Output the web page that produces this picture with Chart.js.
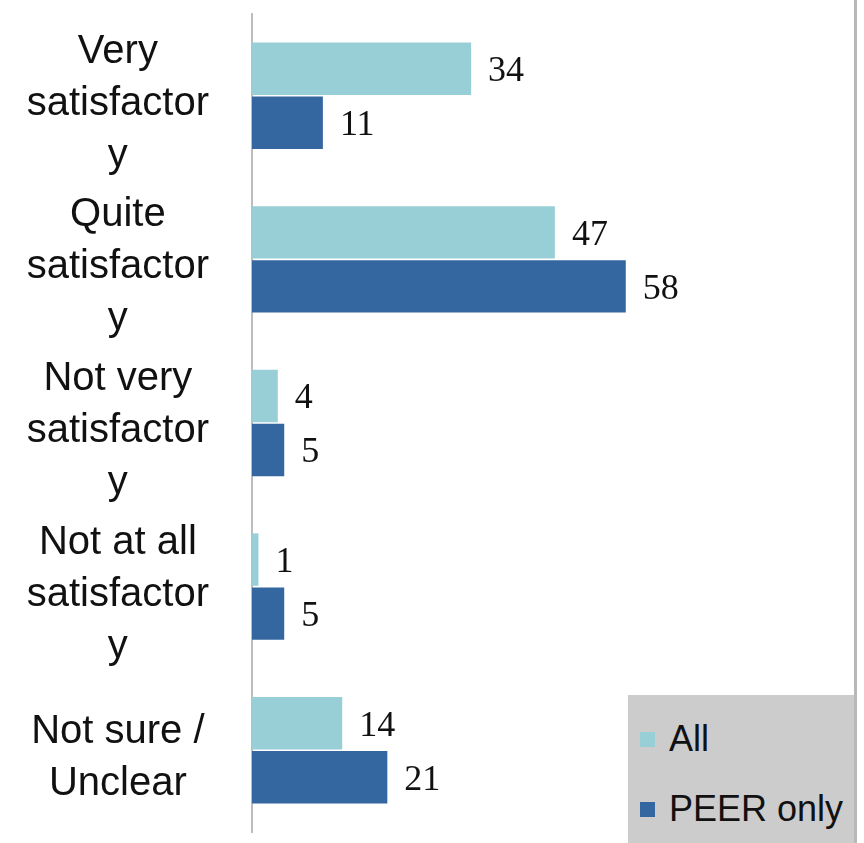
<!DOCTYPE html>
<html>
<head>
<meta charset="utf-8">
<script src="https://cdn.jsdelivr.net/npm/chart.js@4/dist/chart.umd.min.js"></script>
<style>
  html, body { margin: 0; padding: 0; background: #fff; }
  #wrap { position: relative; width: 864px; height: 843px; overflow: hidden; }
  #edge { position: absolute; left: 854px; top: 0; width: 3px; height: 843px; background: #b8b8b8; }
  #legend { position: absolute; left: 628px; top: 695px; width: 226px; height: 148px; background: #cccccc;
            font-family: "Liberation Sans", Arial, sans-serif; font-size: 36px; color: #111; }
  .item { position: absolute; left: 12px; height: 40px; line-height: 40px; white-space: nowrap; }
  .box { display: inline-block; width: 15px; height: 15px; margin-right: 14px; vertical-align: 4px; }
</style>
</head>
<body>
<div id="wrap">
  <canvas id="chart" width="864" height="843"></canvas>
  <div id="edge"></div>
  <div id="legend"></div>
</div>
<script>
// categorias y valores
const categorias = [
  ['Very', 'satisfactor', 'y'],
  ['Quite', 'satisfactor', 'y'],
  ['Not very', 'satisfactor', 'y'],
  ['Not at all', 'satisfactor', 'y'],
  ['Not sure /', 'Unclear']
];
const valoresAll = [34, 47, 4, 1, 14];
const valoresPeer = [11, 58, 5, 5, 21];
const series = ['All', 'PEER only'];
const colores = ['#98cfd7', '#3466a0'];

// etiquetas de valor al final de cada barra
const etiquetas = {
  id: 'etiquetas',
  afterDatasetsDraw(chart) {
    const ctx = chart.ctx;
    ctx.save();
    ctx.font = '36px "Liberation Serif", "Times New Roman", serif';
    ctx.fillStyle = '#111';
    ctx.textAlign = 'left';
    ctx.textBaseline = 'middle';
    chart.data.datasets.forEach((ds, i) => {
      chart.getDatasetMeta(i).data.forEach((bar, j) => {
        ctx.fillText(ds.data[j], bar.x + 17, bar.y + 3);
      });
    });
    ctx.restore();
  }
};

const chart = new Chart(document.getElementById('chart'), {
  type: 'bar',
  data: {
    labels: categorias,
    datasets: [
      { label: series[0], data: valoresAll, backgroundColor: colores[0] },
      { label: series[1], data: valoresPeer, backgroundColor: colores[1] }
    ]
  },
  options: {
    indexAxis: 'y',
    responsive: false,
    animation: false,
    layout: { padding: { left: 27, right: 32, top: 14, bottom: 11 } },
    datasets: { bar: { categoryPercentage: 0.66, barPercentage: 0.97 } },
    scales: {
      x: { display: false, min: 0, max: 90 },
      y: {
        grid: { display: false, drawTicks: false },
        border: { display: true, color: '#bdbdbd', width: 2 },
        ticks: {
          crossAlign: 'center',
          padding: 43,
          labelOffset: 8,
          color: '#111',
          font: { family: '"Liberation Sans", Arial, sans-serif', size: 40, lineHeight: 1.3 }
        },
        afterFit(scale) {
          // etiquetas de varias lineas: sin margen extra arriba/abajo
          scale.paddingTop = 0;
          scale.paddingBottom = 0;
          scale.width = 225;
        }
      }
    },
    plugins: { legend: { display: false }, tooltip: { enabled: false } }
  },
  plugins: [etiquetas]
});

// leyenda en HTML
const leyenda = document.getElementById('legend');
chart.data.datasets.forEach((ds, i) => {
  const d = document.createElement('div');
  d.className = 'item';
  d.style.top = (24 + i * 70) + 'px';
  d.innerHTML = '<span class="box" style="background:' + ds.backgroundColor + '"></span>' + ds.label;
  leyenda.appendChild(d);
});
</script>
</body>
</html>
